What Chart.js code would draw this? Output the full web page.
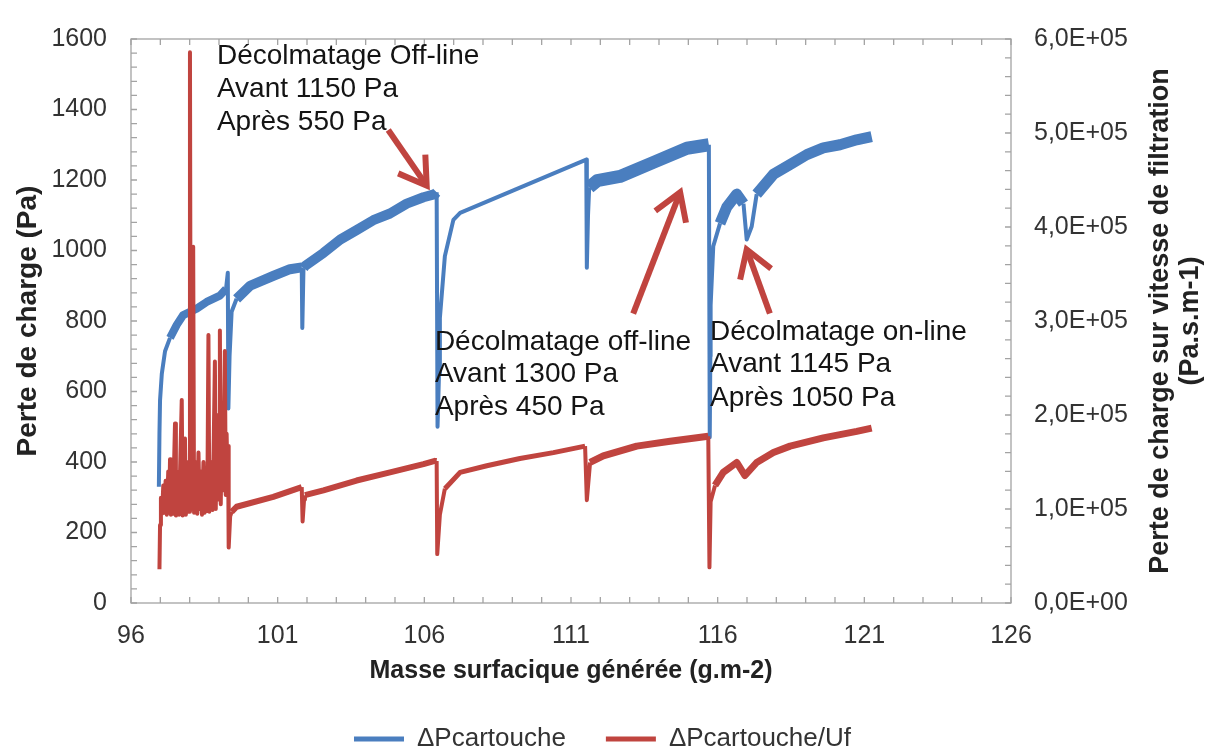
<!DOCTYPE html>
<html><head><meta charset="utf-8">
<script src="https://cdn.jsdelivr.net/npm/chart.js@4.4.0/dist/chart.umd.min.js"></script>
<style>html,body{margin:0;padding:0;background:#fff;}</style>
</head><body>
<canvas id="c" width="1205" height="754"></canvas>
<script>
// ---------- data ----------
const seriesNames = ['ΔPcartouche', 'ΔPcartouche/Uf'];
const xTickLabels = ['96','101','106','111','116','121','126'];
const leftTickLabels = ['0','200','400','600','800','1000','1200','1400','1600'];
const rightTickLabels = ['0,0E+00','1,0E+05','2,0E+05','3,0E+05','4,0E+05','5,0E+05','6,0E+05'];

const blueX = [96.95,96.97,96.99,97.05,97.16,97.33,97.56,97.78,98.24,98.58,99.03,99.24,99.30,99.32,99.36,99.43,99.60,100.06,100.85,101.42,101.82,101.84,101.88,101.93,102.56,103.13,103.69,104.26,104.83,105.40,105.97,106.36,106.42,106.45,106.50,106.53,106.70,106.99,107.22,111.52,111.54,111.58,111.62,111.89,112.67,113.81,114.95,115.70,115.73,115.75,115.76,115.85,116.08,116.31,116.65,116.88,116.99,117.16,117.33,117.90,118.47,119.04,119.60,120.17,120.74,121.25];
const blueY = [330,480,575,650,714,752,789,817,835,854,872,891,937,552,700,826,863,900,928,947,952,780,950,956,993,1031,1058,1086,1105,1133,1151,1160,1165,500,650,808,984,1087,1107,1258,951,1100,1179,1198,1210,1250,1290,1300,470,700,845,1012,1077,1123,1160,1133,1031,1068,1160,1216,1244,1272,1291,1300,1314,1323];

const redX = [96.97,96.99,97.02,97.06,97.10,97.14,97.18,97.22,97.27,97.30,97.33,97.36,97.40,97.44,97.47,97.50,97.53,97.57,97.61,97.64,97.68,97.73,97.76,97.80,97.84,97.87,97.91,97.95,97.98,98.01,98.04,98.08,98.12,98.15,98.19,98.23,98.26,98.30,98.34,98.38,98.42,98.47,98.51,98.56,98.60,98.64,98.67,98.71,98.75,98.78,98.82,98.86,98.89,98.93,98.97,99.00,99.03,99.06,99.10,99.14,99.17,99.20,99.23,99.26,99.29,99.31,99.33,99.38,99.43,99.60,100.85,101.82,101.85,101.90,101.93,102.56,103.69,104.83,105.97,106.36,106.42,106.44,106.53,106.70,107.22,108.13,109.26,110.40,111.48,111.54,111.65,112.10,113.24,114.38,115.68,115.72,115.76,115.91,116.19,116.65,116.93,117.33,117.90,118.47,119.60,120.74,121.25];
const redY = [36000,83000,112000,95000,125000,96000,130000,94000,140000,96000,153000,94000,135000,95000,150000,191000,93000,140000,120000,94000,150000,216000,93000,160000,175000,94000,150000,120000,97000,586000,100000,165000,379000,96000,150000,120000,95000,160000,100000,140000,94000,150000,96000,130000,98000,285000,97000,150000,120000,99000,170000,257000,100000,200000,110000,180000,290000,105000,200000,120000,190000,268000,115000,180000,130000,167000,59000,92000,97000,102400,112900,123300,86800,110000,114700,119900,130300,139000,147700,151200,151000,52000,94000,121600,139000,146000,153700,160000,166900,109400,149500,156500,166900,172100,177400,37900,107700,125100,139000,149500,135600,149500,160000,166900,175600,182600,186100];

// ---------- annotations (data coords: x, left-axis value) ----------
const notes = [
  {x: 98.93, ys: [1530, 1436, 1341], lines: ['Décolmatage Off-line', 'Avant 1150 Pa', 'Après 550 Pa']},
  {x: 106.36, ys: [719, 627, 532], lines: ['Décolmatage off-line', 'Avant 1300 Pa', 'Après 450 Pa']},
  {x: 115.74, ys: [747, 655, 560], lines: ['Décolmatage on-line', 'Avant 1145 Pa', 'Après 1050 Pa']}
];
const arrows = [
  {from: [104.77, 1342], to: [106.08, 1184]},
  {from: [113.12, 821], to: [114.72, 1165]},
  {from: [117.78, 821], to: [116.99, 1003]}
];

// ---------- styles ----------
const FONT = '"Liberation Sans", Arial, sans-serif';
const BLUE = '#4a7ebf';
const RED = '#c0443f';
const blueBands = [{from: 97.3, to: 99.31, w: 8}, {from: 99.4, to: 106.43, w: 10}, {from: 111.6, to: 115.72, w: 13}, {from: 115.9, to: 121.3, w: 11}];
const redBands = [{from: 99.4, to: 106.43, w: 6}, {from: 111.6, to: 115.72, w: 7}, {from: 115.9, to: 121.3, w: 7}];

function segWidth(bands, xs, base) {
  return ctx => {
    const dx = Math.abs(ctx.p1.x - ctx.p0.x), dy = Math.abs(ctx.p1.y - ctx.p0.y);
    if (dy > 2.5 * dx) return 4;
    const xv = xs[ctx.p0DataIndex];
    for (const b of bands) if (xv >= b.from && xv < b.to) return b.w;
    return base;
  };
}

const framePlugin = {
  id: 'frame',
  beforeDatasetsDraw(chart) {
    const {ctx, chartArea: a, scales} = chart;
    ctx.save();
    ctx.strokeStyle = '#a3a3a3';
    ctx.lineWidth = 1.3;
    ctx.strokeRect(a.left, a.top, a.right - a.left, a.bottom - a.top);
    const L = 6;
    ctx.beginPath();
    scales.x.ticks.forEach((t, i) => {
      const p = scales.x.getPixelForTick(i);
      ctx.moveTo(p, a.bottom); ctx.lineTo(p, a.bottom - L);
      ctx.moveTo(p, a.top); ctx.lineTo(p, a.top + L);
    });
    scales.y.ticks.forEach((t, i) => {
      const p = scales.y.getPixelForTick(i);
      ctx.moveTo(a.left, p); ctx.lineTo(a.left + L, p);
    });
    scales.y1.ticks.forEach((t, i) => {
      const p = scales.y1.getPixelForTick(i);
      ctx.moveTo(a.right, p); ctx.lineTo(a.right - L, p);
    });
    ctx.stroke();
    ctx.restore();
  }
};

const notePlugin = {
  id: 'notes',
  afterDatasetsDraw(chart) {
    const {ctx, scales} = chart;
    const sx = v => scales.x.getPixelForValue(v), sy = v => scales.y.getPixelForValue(v);
    ctx.save();
    ctx.strokeStyle = RED; ctx.lineWidth = 6; ctx.lineCap = 'butt'; ctx.lineJoin = 'miter';
    arrows.forEach(ar => {
      const x0 = sx(ar.from[0]), y0 = sy(ar.from[1]), x1 = sx(ar.to[0]), y1 = sy(ar.to[1]);
      const ang = Math.atan2(y1 - y0, x1 - x0);
      const back = ang + Math.PI, h = 31, spread = 0.56;
      ctx.beginPath();
      ctx.moveTo(x0, y0); ctx.lineTo(x1 - 3 * Math.cos(ang), y1 - 3 * Math.sin(ang));
      ctx.stroke();
      ctx.beginPath();
      ctx.moveTo(x1 + h * Math.cos(back + spread), y1 + h * Math.sin(back + spread));
      ctx.lineTo(x1, y1);
      ctx.lineTo(x1 + h * Math.cos(back - spread), y1 + h * Math.sin(back - spread));
      ctx.stroke();
    });
    ctx.fillStyle = '#141414';
    ctx.font = '28px ' + FONT;
    ctx.textAlign = 'left'; ctx.textBaseline = 'alphabetic';
    notes.forEach(n => n.lines.forEach((t, i) => ctx.fillText(t, sx(n.x), sy(n.ys[i]))));
    // right axis title (reads bottom to top)
    const a = chart.chartArea;
    ctx.save();
    ctx.translate(1161, (a.top + a.bottom) / 2);
    ctx.rotate(-Math.PI / 2);
    ctx.font = 'bold 27px ' + FONT;
    ctx.fillStyle = '#222';
    ctx.textAlign = 'center'; ctx.textBaseline = 'middle';
    ctx.fillText('Perte de charge sur vitesse de filtration', 0, 0);
    ctx.fillText('(Pa.s.m-1)', 0, 30);
    ctx.restore();
    ctx.restore();
  }
};

new Chart(document.getElementById('c'), {
  type: 'line',
  data: {
    datasets: [
      {label: seriesNames[0], data: blueX.map((x, i) => ({x, y: blueY[i]})), yAxisID: 'y', order: 1,
       borderColor: BLUE, backgroundColor: BLUE, borderWidth: 4, pointRadius: 0, tension: 0,
       borderJoinStyle: 'round', borderCapStyle: 'butt', segment: {borderWidth: segWidth(blueBands, blueX, 4)}},
      {label: seriesNames[1], data: redX.map((x, i) => ({x, y: redY[i]})), yAxisID: 'y1', order: 0,
       borderColor: RED, backgroundColor: RED, borderWidth: 5, pointRadius: 0, tension: 0,
       borderJoinStyle: 'round', borderCapStyle: 'butt', segment: {borderWidth: segWidth(redBands, redX, 5)}}
    ]
  },
  options: {
    responsive: false, animation: false, devicePixelRatio: 1,
    layout: {padding: {top: 29, left: 0, right: 0, bottom: -8}},
    plugins: {
      tooltip: {enabled: false},
      legend: {
        position: 'bottom', align: 'center',
        labels: {
          font: {family: FONT, size: 26}, color: '#333', boxWidth: 50, boxHeight: 5, padding: 40,
          generateLabels(chart) {
            return chart.data.datasets.map((ds, i) => ({text: ds.label, fillStyle: ds.borderColor, strokeStyle: ds.borderColor, lineWidth: 0, hidden: false, datasetIndex: i, fontColor: '#333'}));
          }
        }
      }
    },
    scales: {
      x: {
        type: 'linear', min: 96, max: 126,
        afterFit(s) { s.height = 83; },
        grid: {display: false, drawTicks: false},
        border: {display: false},
        ticks: {stepSize: 1, autoSkip: false, maxRotation: 0, padding: 18, color: '#333', font: {family: FONT, size: 25},
          callback(v) { const i = xTickLabels.indexOf(String(v)); return i >= 0 ? xTickLabels[i] : ''; }},
        title: {display: true, text: 'Masse surfacique générée (g.m-2)', color: '#222', font: {family: FONT, size: 25, weight: 'bold'}, padding: {top: 0, bottom: 0}}
      },
      y: {
        type: 'linear', position: 'left', min: 0, max: 1600,
        afterFit(s) { s.width = 131; },
        grid: {display: false, drawTicks: false},
        border: {display: false},
        ticks: {stepSize: 40, autoSkip: false, padding: 24, color: '#333', font: {family: FONT, size: 25},
          callback(v) { return v % 200 === 0 ? leftTickLabels[v / 200] : ''; }},
        title: {display: true, text: 'Perte de charge (Pa)', color: '#222', font: {family: FONT, size: 28, weight: 'bold'}, padding: {top: 11, bottom: 0}}
      },
      y1: {
        type: 'linear', position: 'right', min: 0, max: 600000,
        afterFit(s) { s.width = 194; },
        grid: {display: false, drawTicks: false, drawOnChartArea: false},
        border: {display: false},
        ticks: {stepSize: 20000, autoSkip: false, padding: 23, color: '#333', font: {family: FONT, size: 25},
          callback(v) { return v % 100000 === 0 ? rightTickLabels[v / 100000] : ''; }}
      }
    }
  },
  plugins: [framePlugin, notePlugin]
});
</script>
</body></html>
